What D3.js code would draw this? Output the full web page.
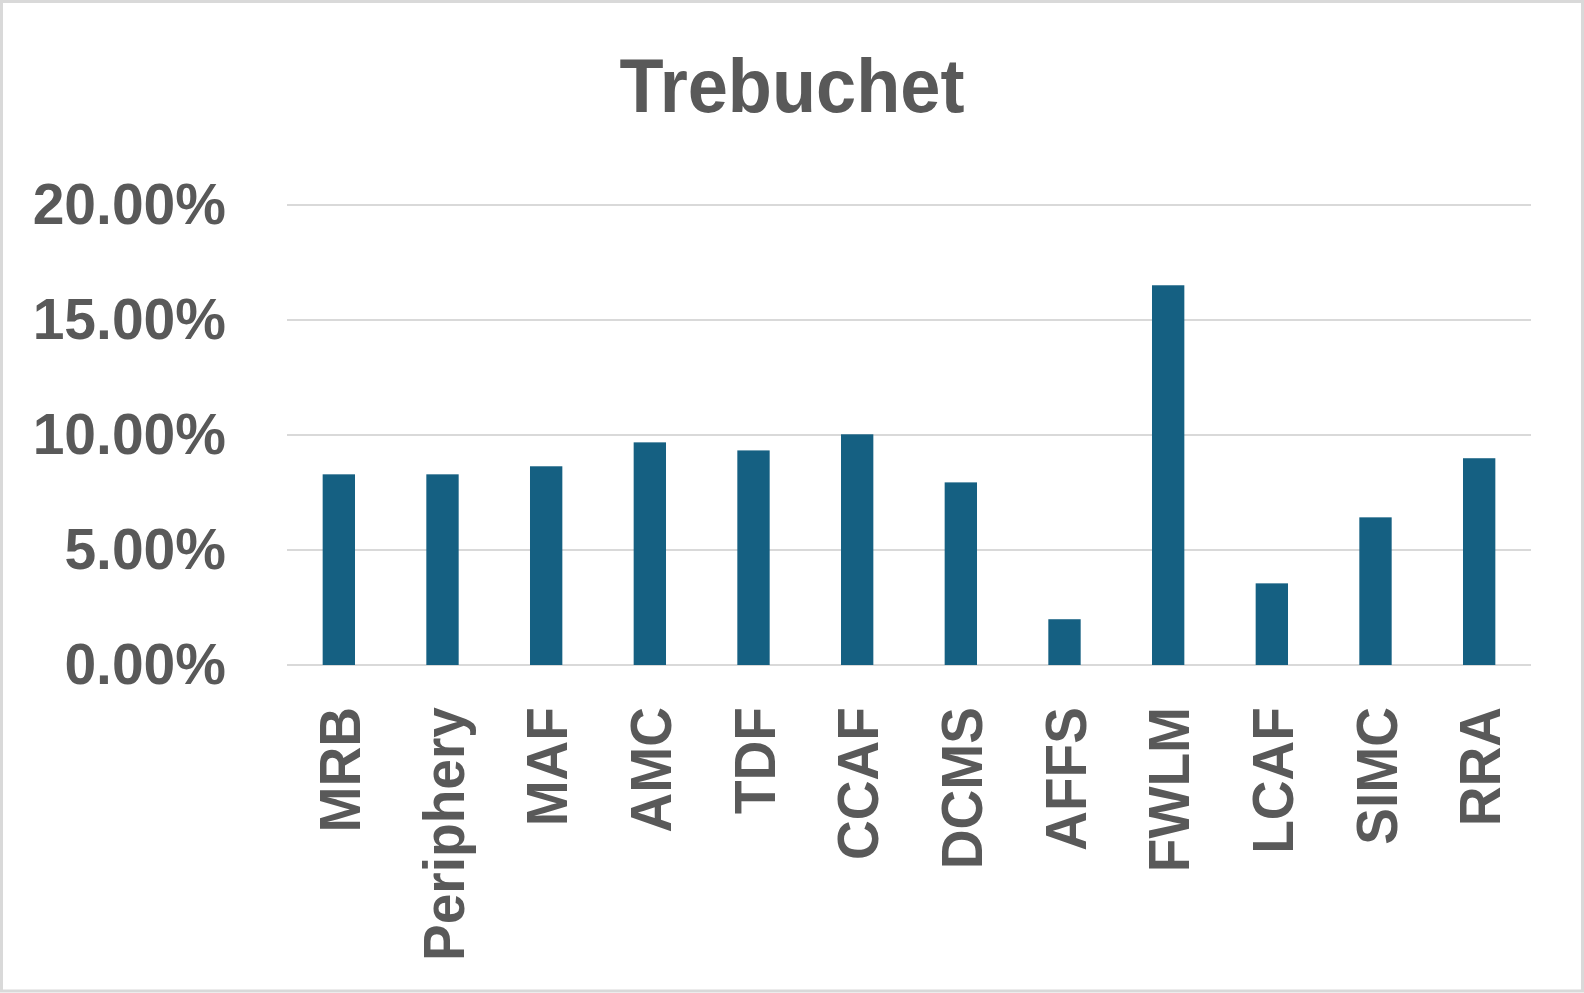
<!DOCTYPE html>
<html>
<head>
<meta charset="utf-8">
<script src="https://cdn.jsdelivr.net/npm/d3@7"></script>
<style>
  html, body { margin: 0; padding: 0; background: #fff; }
  svg { display: block; }
  text { font-family: "Liberation Sans", Arial, sans-serif; font-weight: bold; fill: #595959; }
</style>
</head>
<body>
<svg id="chart" width="1584" height="993"></svg>
<script>
const title = "Trebuchet";
const categories = ["MRB", "Periphery", "MAF", "AMC", "TDF", "CCAF", "DCMS", "AFFS", "FWLM", "LCAF", "SIMC", "RRA"];
const values = [0.0829, 0.0829, 0.0864, 0.0968, 0.0933, 0.1003, 0.0794, 0.0199, 0.1651, 0.0355, 0.0642, 0.0899];
const yTicks = [0, 0.05, 0.10, 0.15, 0.20];

const W = 1584, H = 993;
const plot = { left: 287, right: 1531, top: 205, bottom: 665 };
const svg = d3.select("#chart");

// chart border
svg.append("rect")
  .attr("x", 1.5).attr("y", 1.5)
  .attr("width", W - 3).attr("height", H - 3.5)
  .attr("fill", "#fff").attr("stroke", "#D9D9D9").attr("stroke-width", 3);

const x = d3.scaleBand()
  .domain(categories)
  .range([plot.left, plot.right])
  .paddingInner(0.688)
  .paddingOuter(0.344);

const y = d3.scaleLinear().domain([0, 0.20]).range([plot.bottom, plot.top]);

// gridlines
svg.append("g")
  .selectAll("line")
  .data(yTicks)
  .join("line")
  .attr("x1", plot.left).attr("x2", plot.right)
  .attr("y1", d => y(d)).attr("y2", d => y(d))
  .attr("stroke", "#D9D9D9").attr("stroke-width", 2);

// y axis labels
const yAxis = d3.axisLeft(y).tickValues(yTicks).tickFormat(d3.format(".2%")).tickSize(0).tickPadding(0);
const gy = svg.append("g").attr("transform", "translate(226,0)").call(yAxis);
gy.select(".domain").remove();
gy.selectAll("text")
  .attr("fill", "#595959")
  .attr("font-size", 57)
  .attr("font-family", "'Liberation Sans', Arial, sans-serif")
  .attr("font-weight", "bold")
  .attr("dy", null)
  .attr("dominant-baseline", "alphabetic")
  .attr("y", 18.5);

// bars
svg.append("g")
  .selectAll("rect")
  .data(categories.map((c, i) => ({ c, v: values[i] })))
  .join("rect")
  .attr("x", d => x(d.c))
  .attr("y", d => y(d.v))
  .attr("width", x.bandwidth())
  .attr("height", d => y(0) - y(d.v))
  .attr("fill", "#156082");

// x axis labels (rotated)
const xAxis = d3.axisBottom(x).tickSize(0).tickPadding(0);
const gx = svg.append("g").attr("transform", `translate(0,${plot.bottom})`).call(xAxis);
gx.select(".domain").remove();
gx.selectAll(".tick text")
  .attr("fill", "#595959")
  .attr("font-size", 58)
  .attr("font-family", "'Liberation Sans', Arial, sans-serif")
  .attr("font-weight", "bold")
  .attr("text-anchor", "end")
  .attr("dy", null)
  .attr("x", 0).attr("y", 0)
  .attr("transform", "translate(21,42) rotate(-90) scale(0.95,1)");

// title
svg.append("text")
  .attr("x", W / 2)
  .attr("y", 112.5)
  .attr("text-anchor", "middle")
  .attr("font-size", 76)
  .attr("transform", `translate(${W / 2},0) scale(0.95,1) translate(${-W / 2},0)`)
  .text(title);
</script>
</body>
</html>
